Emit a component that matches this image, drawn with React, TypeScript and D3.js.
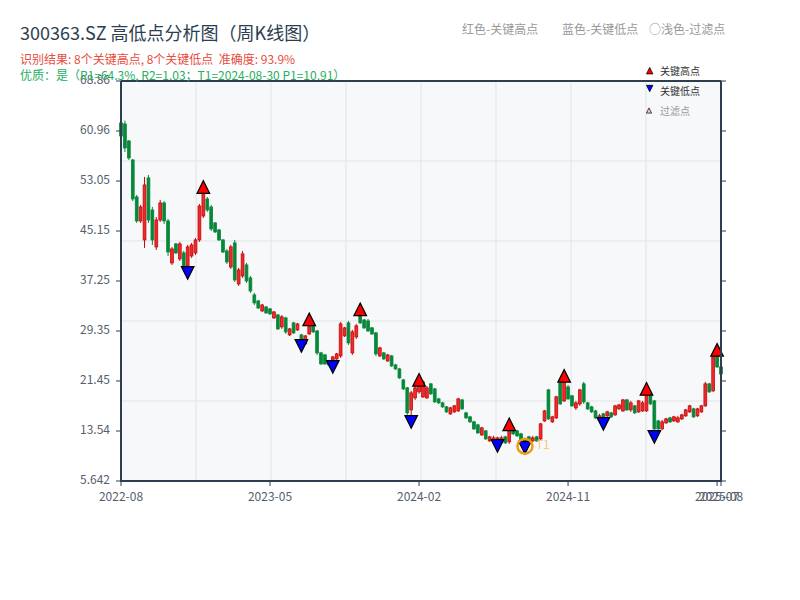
import React from "react";
import * as d3 from "d3";

// [open, close, low, high] weekly candles
const candles: [number, number, number, number][] = [
  [62.23, 60.17, 60.01, 62.39], [62.07, 58.28, 57.65, 62.6], [59.38, 56.7, 56.38, 59.54], [56.38, 50.22, 49.9, 56.54],
  [50.54, 46.74, 46.43, 50.85], [46.74, 48.95, 46.43, 49.27], [43.74, 52.43, 42.48, 53.7], [53.54, 46.9, 46.43, 54.01],
  [48.48, 43.74, 42.95, 48.96], [42.64, 46.9, 42.16, 47.37], [46.9, 49.59, 46.58, 50.06], [49.59, 46.74, 46.27, 49.9],
  [46.74, 41.84, 41.21, 47.06], [40.11, 42.32, 39.79, 42.64], [43.11, 41.69, 41.53, 43.27], [40.74, 43.11, 40.42, 43.42],
  [41.69, 39.63, 39.16, 42.0], [39.63, 42.64, 38.53, 42.95], [41.21, 42.95, 40.9, 43.27], [41.69, 43.74, 41.37, 44.06],
  [43.74, 49.11, 43.42, 49.43], [47.53, 51.17, 47.22, 52.11], [50.22, 48.48, 48.17, 50.54], [48.95, 45.48, 45.16, 49.27],
  [46.43, 45.0, 44.85, 46.58], [45.32, 43.74, 43.58, 45.48], [43.74, 41.84, 41.69, 43.9], [42.0, 40.26, 39.95, 42.32],
  [39.47, 42.64, 39.16, 42.95], [43.27, 37.42, 37.1, 43.74], [36.79, 39.0, 36.47, 39.32], [38.05, 41.53, 37.74, 42.0],
  [39.79, 37.26, 36.95, 40.11], [37.74, 35.68, 35.37, 38.05], [35.05, 33.79, 33.47, 35.37], [34.1, 32.99, 32.84, 34.26],
  [32.52, 33.47, 32.36, 33.63], [33.15, 32.21, 32.05, 33.31], [32.84, 32.05, 31.9, 33.0], [31.42, 32.36, 31.26, 32.52],
  [31.89, 29.68, 29.52, 32.05], [30.0, 31.58, 29.68, 31.89], [31.42, 29.21, 28.89, 31.58], [28.73, 29.68, 28.57, 29.84],
  [30.63, 29.05, 28.89, 30.79], [29.52, 30.47, 29.36, 30.63], [28.73, 27.78, 26.99, 28.89], [27.31, 28.57, 27.15, 28.73],
  [28.89, 30.16, 28.73, 31.18], [30.16, 29.21, 29.05, 30.31], [29.36, 25.89, 25.57, 29.52], [25.89, 24.15, 23.99, 26.05],
  [25.57, 24.15, 23.99, 25.73], [24.62, 23.99, 23.83, 24.78], [24.31, 25.25, 23.67, 25.41], [24.94, 25.73, 24.78, 25.89],
  [25.41, 30.47, 25.1, 30.79], [28.57, 29.84, 28.42, 30.0], [30.63, 27.47, 27.15, 30.94], [25.89, 29.21, 25.57, 29.52],
  [28.42, 30.16, 28.1, 30.47], [31.89, 30.63, 30.47, 32.76], [31.1, 29.84, 29.68, 31.26], [30.94, 29.36, 29.21, 31.26],
  [29.84, 28.89, 28.73, 30.0], [29.05, 25.73, 25.41, 29.21], [25.41, 26.68, 25.25, 26.84], [25.89, 24.94, 24.78, 26.05],
  [24.62, 25.57, 24.46, 25.73], [25.41, 23.83, 23.67, 25.57], [23.99, 23.36, 23.2, 24.15], [23.36, 21.94, 21.78, 23.52],
  [21.62, 20.2, 20.04, 21.78], [20.36, 16.41, 16.09, 20.51], [16.88, 19.57, 14.99, 19.89], [18.78, 20.36, 18.46, 20.83],
  [19.73, 20.99, 19.41, 21.62], [18.94, 21.3, 18.78, 21.54], [18.78, 20.36, 18.62, 20.67], [20.99, 19.41, 19.25, 21.15],
  [20.2, 18.15, 17.99, 20.36], [18.62, 17.99, 17.83, 18.78], [17.99, 17.36, 17.2, 18.15], [17.36, 16.57, 16.41, 17.52],
  [16.25, 17.2, 16.09, 17.36], [16.57, 17.52, 16.41, 17.67], [16.72, 18.62, 16.57, 18.78], [18.46, 17.04, 16.88, 18.62],
  [16.41, 15.62, 15.46, 16.57], [15.78, 14.99, 14.83, 15.94], [14.99, 13.88, 13.72, 15.15], [14.51, 13.25, 13.09, 14.67],
  [12.93, 14.04, 12.78, 14.2], [13.56, 12.3, 12.14, 13.72], [11.98, 12.62, 11.83, 12.78], [11.98, 12.46, 11.83, 12.78],
  [11.98, 12.46, 11.19, 12.62], [11.98, 12.46, 11.83, 12.78], [12.62, 11.67, 11.51, 12.78], [11.83, 14.04, 11.51, 14.59],
  [13.88, 13.09, 12.93, 14.04], [13.56, 12.78, 12.62, 13.72], [13.09, 12.14, 11.98, 13.25], [12.3, 11.67, 10.91, 12.46],
  [12.62, 11.98, 11.83, 12.78], [11.98, 12.46, 11.83, 12.78], [12.62, 11.98, 11.83, 12.78], [12.3, 14.67, 12.14, 14.83],
  [15.14, 16.72, 14.99, 16.88], [20.04, 15.46, 15.3, 20.2], [14.99, 15.78, 14.83, 15.94], [15.62, 18.94, 15.46, 19.1],
  [21.15, 17.83, 17.67, 21.31], [18.3, 21.62, 18.15, 22.25], [20.51, 18.62, 18.46, 20.83], [19.1, 17.52, 17.36, 19.25],
  [17.2, 17.99, 16.88, 18.3], [17.83, 20.04, 17.52, 20.2], [20.99, 18.15, 17.83, 21.31], [17.99, 17.04, 16.88, 18.15],
  [17.36, 16.57, 16.41, 17.52], [16.72, 15.62, 15.46, 16.88], [15.3, 15.94, 15.2, 16.25], [16.25, 15.62, 14.67, 16.41],
  [15.94, 16.57, 15.78, 16.72], [16.41, 15.78, 15.62, 16.57], [16.09, 17.52, 15.94, 17.67], [17.04, 17.67, 16.88, 17.83],
  [16.72, 18.46, 16.57, 18.62], [18.46, 16.88, 16.72, 18.62], [16.88, 17.99, 16.57, 18.3], [17.52, 16.41, 16.25, 17.67],
  [16.57, 18.3, 16.41, 18.46], [16.72, 17.99, 16.57, 18.3], [16.72, 19.57, 16.57, 20.2], [19.1, 17.83, 17.67, 19.25],
  [18.3, 13.88, 12.62, 18.46], [15.14, 13.88, 13.72, 15.3], [13.88, 14.99, 13.72, 15.3], [14.83, 15.46, 14.67, 15.62],
  [15.62, 14.99, 14.83, 15.78], [15.14, 15.78, 14.99, 15.94], [14.99, 15.62, 14.83, 15.94], [15.46, 16.09, 15.3, 16.25],
  [15.94, 16.88, 15.78, 17.04], [16.57, 17.52, 16.41, 17.67], [17.04, 15.78, 15.62, 17.2], [15.94, 17.04, 15.78, 17.2],
  [16.57, 17.52, 16.41, 17.67], [17.52, 20.99, 17.36, 21.31], [20.99, 19.73, 19.57, 21.15], [19.89, 25.25, 19.73, 25.57],
  [25.41, 23.67, 23.52, 26.36], [23.67, 22.57, 22.41, 23.83],
];

const highIdx = [21, 48, 61, 76, 99, 113, 134, 152];
const lowIdx = [17, 46, 54, 74, 96, 103, 123, 136];
const yTicks = [5.642, 13.54, 21.45, 29.35, 37.25, 45.15, 53.05, 60.96, 68.86];
const yTickLabels = ["5.642", "13.54", "21.45", "29.35", "37.25", "45.15", "53.05", "60.96", "68.86"];
const xTickIdx = [0, 38, 76, 114, 152, 153];
const xTickLabels = ["2022-08", "2023-05", "2024-02", "2024-11", "2025-07", "2025-08"];
const t1 = { index: 103, price: 10.91, label: "T1" };

const FONT = "'Noto Sans CJK SC', 'Noto Sans', sans-serif";
const RED_FILL = "#f02a2a";
const RED_EDGE = "#c20a0a";
const GREEN = "#08873a";
const AXIS = "#2c3e50";

export default function App() {
  const L = 121, R = 721, T = 81, B = 481;
  const x = d3.scaleLinear().domain([0, candles.length - 1]).range([L, R]);
  const y = d3.scaleLinear().domain([yTicks[0], yTicks[yTicks.length - 1]]).range([B, T]);
  const gx = d3.scaleLinear().domain([0, 8]).range([L, R]);
  const gy = d3.scaleLinear().domain([0, 5]).range([T, B]);
  const bw = 2.8;
  const tri = 6.3;

  const upTri = (cx: number, cy: number, s: number) =>
    `M${cx},${cy - s}L${cx + s},${cy + s}L${cx - s},${cy + s}Z`;
  const downTri = (cx: number, cy: number, s: number) =>
    `M${cx},${cy + s}L${cx + s},${cy - s}L${cx - s},${cy - s}Z`;

  return (
    <svg width={800} height={600} style={{ position: "absolute", left: 0, top: 0, fontFamily: FONT }}>
      <rect x={0} y={0} width={800} height={600} fill="#ffffff" />
      <rect x={L} y={T} width={R - L} height={B - T} fill="#f6f8fa" />
      {d3.range(1, 8).map((k) => (
        <line key={"gx" + k} x1={gx(k)} x2={gx(k)} y1={T} y2={B} stroke="#e1e4e9" strokeWidth={1} />
      ))}
      {d3.range(1, 5).map((k) => (
        <line key={"gy" + k} x1={L} x2={R} y1={gy(k)} y2={gy(k)} stroke="#e1e4e9" strokeWidth={1} />
      ))}

      {candles.map((d, i) => {
        const [o, c, l, h] = d;
        const up = c >= o;
        const cx = x(i);
        const top = y(Math.max(o, c));
        const bot = y(Math.min(o, c));
        const edge = up ? RED_EDGE : GREEN;
        return (
          <g key={"c" + i}>
            <line x1={cx} x2={cx} y1={y(h)} y2={y(l)} stroke={edge} strokeWidth={1} />
            <rect x={cx - bw / 2} y={top} width={bw} height={Math.max(1, bot - top)}
              fill={up ? RED_FILL : GREEN} stroke={edge} strokeWidth={0.8} />
          </g>
        );
      })}

      {highIdx.map((i) => (
        <path key={"h" + i} d={upTri(x(i), y(candles[i][3]), tri)} fill="#ff0000" stroke="#000" strokeWidth={1.2} />
      ))}
      {lowIdx.map((i) => (
        <path key={"l" + i} d={downTri(x(i), y(candles[i][2]), tri)} fill="#0000ff" stroke="#000" strokeWidth={1.2} />
      ))}

      <circle cx={x(t1.index)} cy={y(t1.price) - 1.5} r={7.5} fill="none" stroke="#f39c12" strokeWidth={2.5} />
      <text x={x(t1.index) + 11} y={y(t1.price) - 1.5} dominantBaseline="middle" fontSize={12}
        fill="#f39c12" fillOpacity={0.55}>{t1.label}</text>

      {/* frame / axes */}
      <line x1={L} x2={R} y1={T} y2={T} stroke={AXIS} strokeWidth={2} />
      <line x1={R} x2={R} y1={T} y2={B} stroke={AXIS} strokeWidth={2} />
      <line x1={L} x2={L} y1={T} y2={B + 1} stroke={AXIS} strokeWidth={2} />
      <line x1={L - 1} x2={R + 1} y1={B} y2={B} stroke={AXIS} strokeWidth={2} />

      {yTicks.map((v, k) => (
        <g key={"yt" + k}>
          <line x1={L - 5} x2={L} y1={y(v)} y2={y(v)} stroke={AXIS} strokeWidth={1} />
          <line x1={R} x2={R + 5} y1={y(v)} y2={y(v)} stroke={AXIS} strokeWidth={1} />
          <text x={110} y={y(v)} textAnchor="end" dominantBaseline="middle" fontSize={12} fill="#555e6b">
            {yTickLabels[k]}
          </text>
        </g>
      ))}
      {xTickIdx.map((i, k) => (
        <g key={"xt" + k}>
          <line x1={x(i)} x2={x(i)} y1={B} y2={B + 5} stroke={AXIS} strokeWidth={1} />
          <text x={x(i)} y={498} textAnchor="middle" dominantBaseline="middle" fontSize={12} fill="#555e6b">
            {xTickLabels[k]}
          </text>
        </g>
      ))}

      {/* titles */}
      <text x={20} y={40} fontSize={18} fill="#2c3e50">300363.SZ 高低点分析图（周K线图）</text>
      <text x={20} y={64} fontSize={12} fill="#e74c3c" style={{ whiteSpace: "pre" }}>识别结果: 8个关键高点, 8个关键低点  准确度: 93.9%</text>
      <text x={20} y={80} fontSize={12} fill="#27ae60" style={{ whiteSpace: "pre" }}>优质：是（R1=64.3%, R2=1.03；T1=2024-08-30 P1=10.91）</text>

      <text x={462} y={34} fontSize={12} fill="#999999">红色-关键高点</text>
      <text x={562} y={34} fontSize={12} fill="#999999">蓝色-关键低点</text>
      <text x={649} y={34} fontSize={12} fill="#999999">○浅色-过滤点</text>

      {/* inner legend */}
      <path d={upTri(649.7, 70.7, 3.2)} fill="#ff0000" stroke="#000" strokeWidth={0.8} />
      <text x={660} y={72} dominantBaseline="middle" fontSize={10} fill="#333">关键高点</text>
      <path d={downTri(649.7, 88.5, 3.2)} fill="#0000ff" stroke="#000" strokeWidth={0.8} />
      <text x={660} y={92} dominantBaseline="middle" fontSize={10} fill="#333">关键低点</text>
      <path d={upTri(649, 110.5, 2.6)} fill="#ffc8c8" stroke="#000" strokeWidth={0.7} />
      <text x={660} y={112} dominantBaseline="middle" fontSize={10} fill="#999">过滤点</text>
    </svg>
  );
}
